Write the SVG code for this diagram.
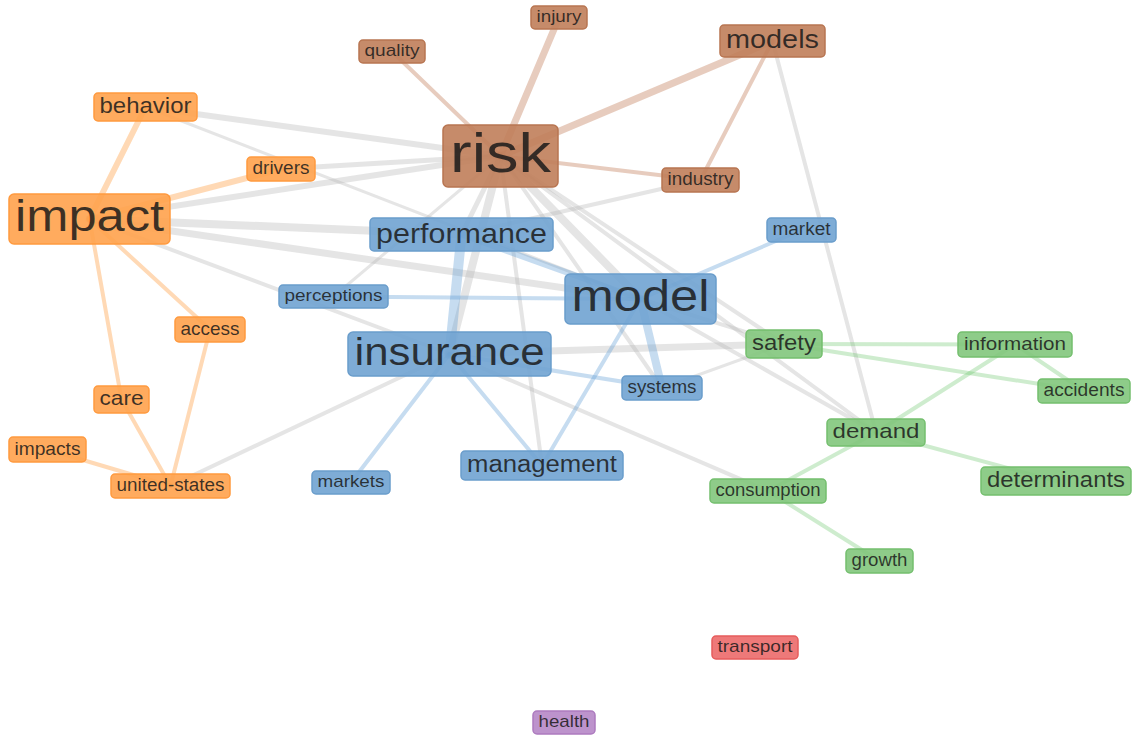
<svg xmlns="http://www.w3.org/2000/svg" width="1134" height="738" viewBox="0 0 1134 738">
<style>
.e{fill:none;stroke-linecap:round}
.gy{stroke:#b8b8b8;stroke-opacity:.36}
.eo{stroke:#ff9a3c;stroke-opacity:.38}
.eb{stroke:#c07a55;stroke-opacity:.38}
.eu{stroke:#5b9bd5;stroke-opacity:.35}
.eg{stroke:#5cbf5c;stroke-opacity:.3}
rect{stroke-width:1.5;fill-opacity:.9}
.o rect{fill:#ffa24c;stroke:#ff9a3f}
.b rect{fill:#c07e5a;stroke:#b87551}
.u rect{fill:#70a3d2;stroke:#6a9dcb}
.g rect{fill:#82c77c;stroke:#74bf6e}
.r rect{fill:#ec6a6a;stroke:#e65c5c}
.p rect{fill:#b687c7;stroke:#ad7bbf}
text{font-family:"Liberation Sans",Arial,sans-serif;fill:#1a1a1a;fill-opacity:.85;text-anchor:middle}
</style>
<g id="connectors" class="e">
<line class="gy" x1="500.5" y1="156" x2="145.5" y2="107" stroke-width="6"/>
<line class="gy" x1="500.5" y1="156" x2="281" y2="169" stroke-width="5"/>
<line class="gy" x1="500.5" y1="156" x2="89.5" y2="219" stroke-width="6"/>
<line class="gy" x1="500.5" y1="156" x2="461.5" y2="234.5" stroke-width="5"/>
<line class="gy" x1="500.5" y1="156" x2="449.5" y2="354" stroke-width="8"/>
<line class="gy" x1="500.5" y1="156" x2="640.5" y2="299" stroke-width="8"/>
<line class="gy" x1="500.5" y1="156" x2="333.5" y2="296.5" stroke-width="3"/>
<line class="gy" x1="500.5" y1="156" x2="542" y2="465.5" stroke-width="4"/>
<line class="gy" x1="500.5" y1="156" x2="662" y2="388" stroke-width="4"/>
<line class="gy" x1="500.5" y1="156" x2="784" y2="344" stroke-width="4"/>
<line class="gy" x1="500.5" y1="156" x2="876" y2="432.5" stroke-width="4"/>
<line class="gy" x1="89.5" y1="219" x2="461.5" y2="234.5" stroke-width="8"/>
<line class="gy" x1="89.5" y1="219" x2="640.5" y2="299" stroke-width="7"/>
<line class="gy" x1="89.5" y1="219" x2="449.5" y2="354" stroke-width="4"/>
<line class="gy" x1="145.5" y1="107" x2="640.5" y2="299" stroke-width="3"/>
<line class="gy" x1="700.5" y1="180" x2="461.5" y2="234.5" stroke-width="4"/>
<line class="gy" x1="449.5" y1="354" x2="784" y2="344" stroke-width="7"/>
<line class="gy" x1="449.5" y1="354" x2="768" y2="491" stroke-width="4"/>
<line class="gy" x1="170.5" y1="486" x2="449.5" y2="354" stroke-width="4"/>
<line class="gy" x1="640.5" y1="299" x2="784" y2="344" stroke-width="4"/>
<line class="gy" x1="640.5" y1="299" x2="876" y2="432.5" stroke-width="4"/>
<line class="gy" x1="772.5" y1="41" x2="876" y2="432.5" stroke-width="4"/>
<line class="gy" x1="662" y1="388" x2="784" y2="344" stroke-width="3"/>
<line class="eb" x1="500.5" y1="156" x2="392" y2="51.5" stroke-width="4"/>
<line class="eb" x1="500.5" y1="156" x2="559" y2="17.5" stroke-width="7"/>
<line class="eb" x1="500.5" y1="156" x2="772.5" y2="41" stroke-width="7"/>
<line class="eb" x1="500.5" y1="156" x2="700.5" y2="180" stroke-width="4"/>
<line class="eb" x1="772.5" y1="41" x2="700.5" y2="180" stroke-width="4"/>
<line class="eo" x1="89.5" y1="219" x2="145.5" y2="107" stroke-width="6"/>
<line class="eo" x1="89.5" y1="219" x2="281" y2="169" stroke-width="6"/>
<line class="eo" x1="89.5" y1="219" x2="210" y2="329.5" stroke-width="4"/>
<line class="eo" x1="89.5" y1="219" x2="121.5" y2="399.5" stroke-width="4"/>
<line class="eo" x1="121.5" y1="399.5" x2="170.5" y2="486" stroke-width="4"/>
<line class="eo" x1="210" y1="329.5" x2="170.5" y2="486" stroke-width="4"/>
<line class="eo" x1="47.5" y1="449.5" x2="170.5" y2="486" stroke-width="4"/>
<line class="eu" x1="461.5" y1="234.5" x2="449.5" y2="354" stroke-width="10"/>
<line class="eu" x1="461.5" y1="234.5" x2="640.5" y2="299" stroke-width="6"/>
<line class="eu" x1="333.5" y1="296.5" x2="640.5" y2="299" stroke-width="4"/>
<line class="eu" x1="449.5" y1="354" x2="662" y2="388" stroke-width="4"/>
<line class="eu" x1="449.5" y1="354" x2="351" y2="482.5" stroke-width="4"/>
<line class="eu" x1="449.5" y1="354" x2="542" y2="465.5" stroke-width="4"/>
<line class="eu" x1="640.5" y1="299" x2="542" y2="465.5" stroke-width="4"/>
<line class="eu" x1="640.5" y1="299" x2="662" y2="388" stroke-width="8"/>
<line class="eu" x1="640.5" y1="299" x2="801.5" y2="230" stroke-width="4"/>
<line class="eg" x1="784" y1="344" x2="1015" y2="344.5" stroke-width="4"/>
<line class="eg" x1="784" y1="344" x2="1084" y2="391" stroke-width="4"/>
<line class="eg" x1="1015" y1="344.5" x2="1084" y2="391" stroke-width="4"/>
<line class="eg" x1="1015" y1="344.5" x2="876" y2="432.5" stroke-width="4"/>
<line class="eg" x1="876" y1="432.5" x2="1056" y2="481" stroke-width="4"/>
<line class="eg" x1="876" y1="432.5" x2="768" y2="491" stroke-width="4"/>
<line class="eg" x1="768" y1="491" x2="879.5" y2="561" stroke-width="4"/>
</g>
<g id="n-injury" class="b"><rect x="531" y="6" width="56" height="23" rx="4"/><text x="559" y="22.3" font-size="17" textLength="45" lengthAdjust="spacingAndGlyphs">injury</text></g>
<g id="n-quality" class="b"><rect x="359" y="40" width="66" height="23" rx="4"/><text x="392" y="56.3" font-size="17" textLength="55" lengthAdjust="spacingAndGlyphs">quality</text></g>
<g id="n-models" class="b"><rect x="720" y="25" width="105" height="32" rx="4"/><text x="772.5" y="48.3" font-size="26" textLength="93" lengthAdjust="spacingAndGlyphs">models</text></g>
<g id="n-risk" class="b"><rect x="443" y="125" width="115" height="62" rx="5"/><text x="500.5" y="172" font-size="56" textLength="101" lengthAdjust="spacingAndGlyphs">risk</text></g>
<g id="n-industry" class="b"><rect x="662" y="168" width="77" height="24" rx="4"/><text x="700.5" y="185" font-size="18" textLength="66" lengthAdjust="spacingAndGlyphs">industry</text></g>
<g id="n-behavior" class="o"><rect x="94" y="93" width="103" height="28" rx="4"/><text x="145.5" y="113.2" font-size="22" textLength="92" lengthAdjust="spacingAndGlyphs">behavior</text></g>
<g id="n-drivers" class="o"><rect x="247" y="157" width="68" height="24" rx="4"/><text x="281" y="174" font-size="18" textLength="57" lengthAdjust="spacingAndGlyphs">drivers</text></g>
<g id="n-impact" class="o"><rect x="9" y="194" width="161" height="50" rx="5"/><text x="89.5" y="231" font-size="44" textLength="149" lengthAdjust="spacingAndGlyphs">impact</text></g>
<g id="n-performance" class="u"><rect x="370" y="218" width="183" height="33" rx="4"/><text x="461.5" y="242.5" font-size="28" textLength="171" lengthAdjust="spacingAndGlyphs">performance</text></g>
<g id="n-market" class="u"><rect x="767" y="218" width="69" height="24" rx="4"/><text x="801.5" y="235" font-size="18" textLength="58" lengthAdjust="spacingAndGlyphs">market</text></g>
<g id="n-perceptions" class="u"><rect x="279" y="285" width="109" height="23" rx="4"/><text x="333.5" y="301.3" font-size="17" textLength="98" lengthAdjust="spacingAndGlyphs">perceptions</text></g>
<g id="n-model" class="u"><rect x="565" y="274" width="151" height="50" rx="5"/><text x="640.5" y="311" font-size="44" textLength="138" lengthAdjust="spacingAndGlyphs">model</text></g>
<g id="n-insurance" class="u"><rect x="348" y="332" width="203" height="44" rx="5"/><text x="449.5" y="364.6" font-size="38" textLength="190" lengthAdjust="spacingAndGlyphs">insurance</text></g>
<g id="n-safety" class="g"><rect x="746" y="330" width="76" height="28" rx="4"/><text x="784" y="350.2" font-size="22" textLength="64" lengthAdjust="spacingAndGlyphs">safety</text></g>
<g id="n-information" class="g"><rect x="958" y="332" width="114" height="25" rx="4"/><text x="1015" y="349.8" font-size="19" textLength="102" lengthAdjust="spacingAndGlyphs">information</text></g>
<g id="n-accidents" class="g"><rect x="1038" y="379" width="92" height="24" rx="4"/><text x="1084" y="396" font-size="18" textLength="81" lengthAdjust="spacingAndGlyphs">accidents</text></g>
<g id="n-systems" class="u"><rect x="622" y="376" width="80" height="24" rx="4"/><text x="662" y="393" font-size="18" textLength="69" lengthAdjust="spacingAndGlyphs">systems</text></g>
<g id="n-access" class="o"><rect x="175" y="317" width="70" height="25" rx="4"/><text x="210" y="334.8" font-size="19" textLength="59" lengthAdjust="spacingAndGlyphs">access</text></g>
<g id="n-care" class="o"><rect x="94" y="386" width="55" height="27" rx="4"/><text x="121.5" y="405.4" font-size="21" textLength="44" lengthAdjust="spacingAndGlyphs">care</text></g>
<g id="n-impacts" class="o"><rect x="9" y="437" width="77" height="25" rx="4"/><text x="47.5" y="454.8" font-size="19" textLength="66" lengthAdjust="spacingAndGlyphs">impacts</text></g>
<g id="n-united-states" class="o"><rect x="111" y="474" width="119" height="24" rx="4"/><text x="170.5" y="491" font-size="18" textLength="108" lengthAdjust="spacingAndGlyphs">united-states</text></g>
<g id="n-markets" class="u"><rect x="312" y="471" width="78" height="23" rx="4"/><text x="351" y="487.3" font-size="17" textLength="67" lengthAdjust="spacingAndGlyphs">markets</text></g>
<g id="n-management" class="u"><rect x="461" y="451" width="162" height="29" rx="4"/><text x="542" y="471.9" font-size="23" textLength="150" lengthAdjust="spacingAndGlyphs">management</text></g>
<g id="n-demand" class="g"><rect x="827" y="419" width="98" height="27" rx="4"/><text x="876" y="438.4" font-size="21" textLength="87" lengthAdjust="spacingAndGlyphs">demand</text></g>
<g id="n-consumption" class="g"><rect x="710" y="479" width="116" height="24" rx="4"/><text x="768" y="496" font-size="18" textLength="105" lengthAdjust="spacingAndGlyphs">consumption</text></g>
<g id="n-determinants" class="g"><rect x="981" y="467" width="150" height="28" rx="4"/><text x="1056" y="487.2" font-size="22" textLength="138" lengthAdjust="spacingAndGlyphs">determinants</text></g>
<g id="n-growth" class="g"><rect x="846" y="549" width="67" height="24" rx="4"/><text x="879.5" y="566" font-size="18" textLength="56" lengthAdjust="spacingAndGlyphs">growth</text></g>
<g id="n-transport" class="r"><rect x="712" y="636" width="86" height="23" rx="4"/><text x="755" y="652.3" font-size="17" textLength="75" lengthAdjust="spacingAndGlyphs">transport</text></g>
<g id="n-health" class="p"><rect x="533" y="711" width="62" height="23" rx="4"/><text x="564" y="727.3" font-size="17" textLength="51" lengthAdjust="spacingAndGlyphs">health</text></g>
</svg>
